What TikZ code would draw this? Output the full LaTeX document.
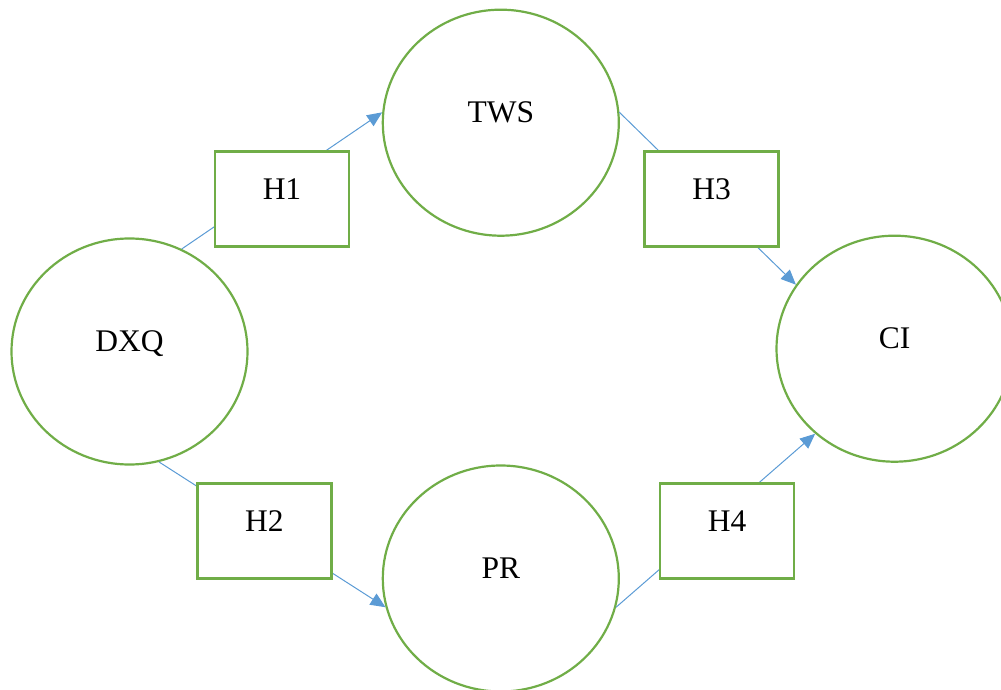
\documentclass[tikz,border=0pt]{standalone}
\usepackage{fontspec}
\setmainfont{Liberation Serif}
\usetikzlibrary{shapes.geometric,arrows.meta}
\definecolor{cgreen}{HTML}{70AD47}
\definecolor{cblue}{HTML}{5B9BD5}
\begin{document}
\begin{tikzpicture}[x=1pt,y=-1pt,
  every node/.style={font=\fontsize{31.5}{36}\selectfont, text height=0pt, text depth=0pt, inner sep=0pt},
  construct/.style={ellipse, draw=cgreen, line width=2.2pt, minimum width=236pt, minimum height=226pt},
  hypbox/.style={rectangle, draw=cgreen, fill=white, line width=2.5pt, minimum width=134pt, minimum height=95pt},
  link/.style={draw=cblue, line width=1pt, -{Triangle[length=15pt,width=13pt]}}]
\useasboundingbox (0,0) rectangle (1001,690);
\node[construct] (DXQ) at (129.5,351.5) {DXQ};
\node[construct] (TWS) at (500.8,122.7) {TWS};
\node[construct] (PR)  at (500.8,578.5) {PR};
\node[construct] (CI)  at (894.5,348.7) {CI};
\draw[link] (DXQ.63)  -- (TWS.175);
\draw[link] (TWS.5)   -- (CI.147);
\draw[link] (DXQ.-75) -- (PR.194);
\draw[link] (PR.-14)  -- (CI.227);
\node[hypbox] (H1) at (282,199.2) {H1};
\node[hypbox] (H3) at (711.5,199) {H3};
\node[hypbox] (H2) at (264.3,531) {H2};
\node[hypbox] (H4) at (727,531) {H4};
\end{tikzpicture}
\end{document}
